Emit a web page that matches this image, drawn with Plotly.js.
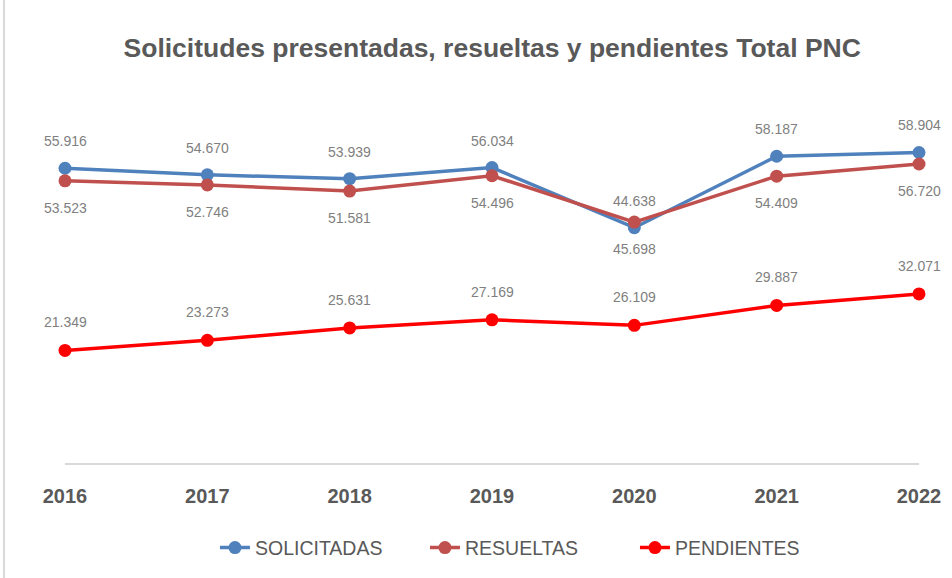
<!DOCTYPE html>
<html>
<head>
<meta charset="utf-8">
<script src="https://cdn.plot.ly/plotly-3.0.1.min.js"></script>
<style>html,body{margin:0;padding:0;background:#fff;}#chart{width:952px;height:578px;}</style>
</head>
<body>
<div id="chart"></div>
<script>
const years = [2016, 2017, 2018, 2019, 2020, 2021, 2022];
const yearLabels = ['2016', '2017', '2018', '2019', '2020', '2021', '2022'];
const solicitadas = [55916, 54670, 53939, 56034, 44638, 58187, 58904];
const resueltas = [53523, 52746, 51581, 54496, 45698, 54409, 56720];
const pendientes = [21349, 23273, 25631, 27169, 26109, 29887, 32071];

const seriesNames = ['SOLICITADAS', 'RESUELTAS', 'PENDIENTES'];
const colors = ['#4F81BD', '#C0504D', '#FF0000'];
const dataSets = [solicitadas, resueltas, pendientes];
const labelShift = [27, -27, 28];

const sans = '"Liberation Sans", Arial, sans-serif';

const traces = dataSets.map((vals, i) => ({
  type: 'scatter',
  mode: 'lines+markers',
  name: seriesNames[i],
  x: years,
  y: vals,
  line: {color: colors[i], width: 3.5},
  marker: {color: colors[i], size: 13},
  cliponaxis: false,
  hoverinfo: 'skip'
}));

const fmt = v => v.toString().replace(/\B(?=(\d{3})+(?!\d))/g, '.');
const annotations = [];
dataSets.forEach((vals, i) => {
  vals.forEach((v, j) => {
    annotations.push({
      x: years[j], y: v, xref: 'x', yref: 'y',
      text: fmt(v), showarrow: false, yshift: labelShift[i],
      font: {family: sans, size: 14, color: '#7F7F7F'}
    });
  });
});

const layout = {
  width: 952, height: 578,
  paper_bgcolor: '#ffffff', plot_bgcolor: '#ffffff',
  margin: {l: 65, r: 33, t: 94, b: 115, autoexpand: false},
  separators: ',.',
  title: {
    text: '<b>Solicitudes presentadas, resueltas y pendientes Total PNC</b>',
    font: {family: sans, size: 26.5, color: '#595959'},
    x: 0.517, xanchor: 'center', y: 0.918, yanchor: 'middle'
  },
  xaxis: {
    range: [2016, 2022], tickvals: years, ticktext: yearLabels.map(t => '<b>' + t + '</b>'),
    showgrid: false, zeroline: false, showline: true, linecolor: '#D9D9D9', linewidth: 2,
    ticks: '', ticklabelstandoff: 14,
    tickfont: {family: sans, size: 20, color: '#595959'}, fixedrange: true
  },
  yaxis: {
    range: [0, 70000], showgrid: false, zeroline: false, showline: false,
    showticklabels: false, ticks: '', fixedrange: true
  },
  showlegend: true,
  legend: {
    orientation: 'h', x: 0.1756, xanchor: 'left', yref: 'container', y: 0.052, yanchor: 'middle',
    font: {family: sans, size: 19.5, color: '#595959'},
    entrywidth: 165, entrywidthmode: 'pixels'
  },
  annotations: annotations,
  shapes: [{
    type: 'line', xref: 'paper', yref: 'paper', x0: -0.0714, x1: -0.0714, y0: -0.4, y1: 1.4,
    line: {color: '#D9D9D9', width: 2}
  }]
};

Plotly.newPlot('chart', traces, layout, {displayModeBar: false, staticPlot: true});
</script>
</body>
</html>
